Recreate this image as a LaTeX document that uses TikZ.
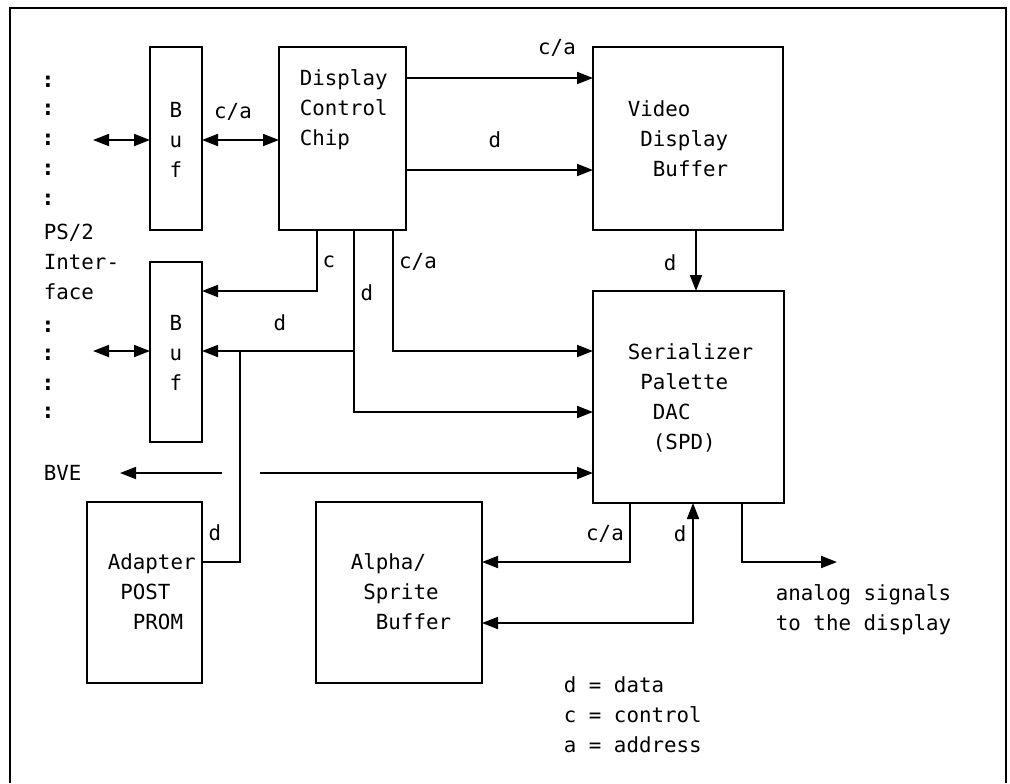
\documentclass[tikz,border=0pt]{standalone}
\usepackage{fontspec}
\setmainfont{DejaVu Sans Mono}
\usetikzlibrary{arrows.meta}
\newcommand{\chsp}{\hphantom{0}}
\tikzset{
  blk/.style={draw,inner sep=0pt,outer sep=0pt},
  txt/.style={inner sep=0pt,align=left,font=\fontsize{10.4}{15}\selectfont},
  lbl/.style={inner sep=0pt,font=\fontsize{10.4}{15}\selectfont},
}

\begin{document}
\begin{tikzpicture}[x=0.5pt,y=-0.5pt,line width=0.9pt,>={Triangle[length=8pt,width=6pt]}]
  \useasboundingbox (0,0) rectangle (1010,783);
  \draw (10,783) -- (10,8) -- (1006,8) -- (1006,783);

  \node[blk,minimum width=26pt,minimum height=91.5pt] (buf1) at (176,138.5) {};
  \node[blk,minimum width=63.5pt,minimum height=91.5pt] (dcc) at (342.5,138.5) {};
  \node[blk,minimum width=95pt,minimum height=91.5pt] (vdb) at (688,138.5) {};
  \node[blk,minimum width=26pt,minimum height=90pt] (buf2) at (176,352) {};
  \node[blk,minimum width=95.5pt,minimum height=106pt] (spd) at (688.5,397) {};
  \node[blk,minimum width=57.5pt,minimum height=90.5pt] (adp) at (144.5,592.5) {};
  \node[blk,minimum width=83pt,minimum height=90.5pt] (alpha) at (399,592.5) {};

  \node[txt,align=center] (buf1-t) at (176,140) {B\\u\\f};
  \node[txt,align=center] (buf2-t) at (176,353) {B\\u\\f};
  \node[txt,anchor=west] (dcc-t) at (299,110) {Display\\Control\\Chip};
  \node[txt,anchor=west] (vdb-t) at (627,139) {Video\\\chsp Display\\\chsp\chsp Buffer};
  \node[txt,anchor=west] (spd-t) at (627,398) {Serializer\\\chsp Palette\\\chsp\chsp DAC\\\chsp\chsp (SPD)};
  \node[txt,anchor=west] (adp-t) at (107,592) {Adapter\\\chsp POST\\\chsp\chsp PROM};
  \node[txt,anchor=west] (alpha-t) at (350,592) {Alpha/\\\chsp Sprite\\\chsp\chsp Buffer};

  \foreach \y [count=\i] in {82,110,140,170,200,327,355,385,413}
    \node[lbl,font=\fontsize{11}{15}\selectfont\bfseries] (col\i) at (48,\y) {:};
  \node[txt,anchor=west] (ps2) at (43,262) {PS/2\\Inter-\\face};
  \node[lbl,anchor=west] (bve) at (43,473) {BVE};
  \node[txt,anchor=west] (analog) at (775,610) {analog signals\\to the display};
  \node[txt,anchor=west] (legend) at (563,715) {d = data\\c = control\\a = address};

  \node[lbl] (l-ca1) at (233,112) {c/a};
  \node[lbl] (l-ca2) at (557,48) {c/a};
  \node[lbl] (l-d1) at (495,140) {d};
  \node[lbl] (l-d2) at (670,263) {d};
  \node[lbl] (l-c) at (329,262) {c};
  \node[lbl] (l-d3) at (367,293) {d};
  \node[lbl] (l-ca3) at (418,262) {c/a};
  \node[lbl] (l-d4) at (280,323) {d};
  \node[lbl] (l-d5) at (215,533) {d};
  \node[lbl] (l-ca4) at (605,534) {c/a};
  \node[lbl] (l-d6) at (680,534) {d};

  \coordinate (busA) at (93,140);
  \coordinate (busB) at (93,351);
  \coordinate (caT) at (0,78);
  \coordinate (dT) at (0,170);
  \coordinate (cB) at (317,291);
  \coordinate (dB) at (354,412);
  \coordinate (dJ) at (354,351);
  \coordinate (caB) at (393,351);
  \coordinate (aJ) at (240,351);
  \coordinate (aB) at (240,562);
  \coordinate (bveL) at (222,473);
  \coordinate (bveTip) at (120,473);
  \coordinate (bveR) at (260,473);
  \coordinate (vd) at (696,260);
  \coordinate (caA) at (630,562);
  \coordinate (dA) at (693,623);
  \coordinate (anB) at (742,562);
  \coordinate (anE) at (837,562);

  \draw[<->] (busA) -- (busA -| buf1.west);
  \draw[<->] (buf1.east |- busA) -- (dcc.west |- busA);
  \draw[<->] (busB) -- (busB -| buf2.west);
  \draw[->] (dcc.east |- caT) -- (vdb.west |- caT);
  \draw[->] (dcc.east |- dT) -- (vdb.west |- dT);
  \draw[->] (vdb.south -| vd) -- (spd.north -| vd);
  \draw[->] (dcc.south -| cB) -- (cB) -- (cB -| buf2.east);
  \draw[->] (dcc.south -| dB) -- (dB) -- (dB -| spd.west);
  \draw[->] (dJ) -- (dJ -| buf2.east);
  \draw[->] (dcc.south -| caB) -- (caB) -- (caB -| spd.west);
  \draw (aJ) -- (aB) -- (aB -| adp.east);
  \draw[->] (bveL) -- (bveTip);
  \draw[->] (bveR) -- (bveR -| spd.west);
  \draw[->] (spd.south -| caA) -- (caA) -- (caA -| alpha.east);
  \draw[<->] (dA -| alpha.east) -- (dA) -- (spd.south -| dA);
  \draw[->] (spd.south -| anB) -- (anB) -- (anE);
\end{tikzpicture}
\end{document}
